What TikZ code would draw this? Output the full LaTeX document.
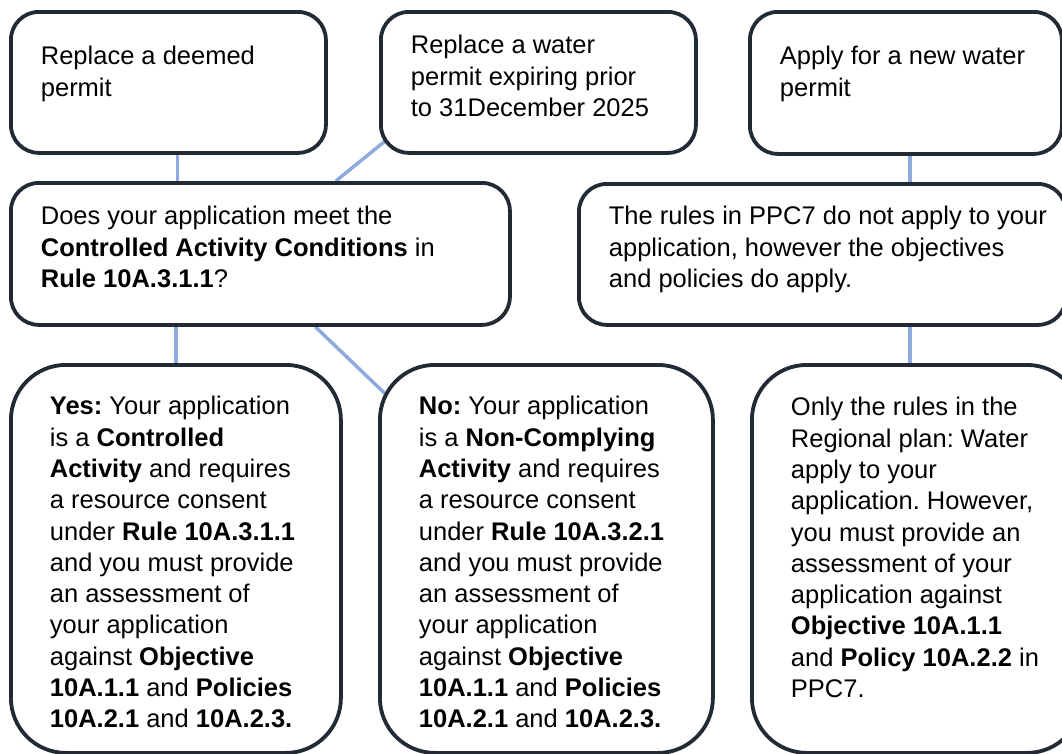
\documentclass[tikz,border=0pt]{standalone}
\usepackage{fontspec}
\setmainfont{Liberation Sans}
\usetikzlibrary{backgrounds}
\definecolor{boxline}{HTML}{222A35}
\definecolor{linkblue}{HTML}{8FAADC}
\newcommand{\notefont}{\fontsize{25.5}{31.3}\selectfont}
\newcommand{\notetext}[4]{\parbox[c][#1][t]{#2}{\raggedright\frenchspacing\vspace*{#3}\strut#4}}

\begin{document}
\begin{tikzpicture}[x=1pt, y=-1pt,
  note/.style={draw=boxline, fill=white, line width=3.8pt, rounded corners=28pt, anchor=north west, inner xsep=30pt, inner ysep=0pt, font=\notefont},
  bignote/.style={note, rounded corners=55pt, inner xsep=39pt},
  link/.style={draw=linkblue, line width=3.5pt}]
\useasboundingbox (0,0) rectangle (1062,753);
\clip (0,0) rectangle (1062,753);

\node[note] (deemed) at (9,10) {\notetext{141pt}{255pt}{31pt}{Replace a deemed\\permit}};
\node[note] (expiring) at (379,10) {\notetext{141pt}{255pt}{20pt}{Replace a water\\permit expiring prior\\to 31December 2025}};
\node[note] (newpermit) at (748,10) {\notetext{142pt}{252pt}{31pt}{Apply for a new water\\permit}};

\node[note] (question) at (9,181) {\notetext{142pt}{439pt}{20pt}{Does your application meet the\\\textbf{Controlled Activity Conditions} in\\\textbf{Rule 10A.3.1.1}?}};
\node[note] (norules) at (577,182) {\notetext{141pt}{427pt}{19pt}{\mbox{The rules in PPC7 do not apply to your}\\application, however the objectives\\and policies do apply.}};

\node[bignote] (yes) at (9,363) {\notetext{388pt}{252pt}{28pt}{\textbf{Yes:} Your application\\is a \textbf{Controlled}\\\textbf{Activity} and requires\\a resource consent\\under \textbf{Rule 10A.3.1.1}\\and you must provide\\an assessment of\\your application\\against \textbf{Objective}\\\textbf{10A.1.1} and \textbf{Policies}\\\textbf{10A.2.1} and \textbf{10A.2.3.}}};
\node[bignote] (no) at (378,363) {\notetext{388pt}{255pt}{28pt}{\textbf{No:} Your application\\is a \textbf{Non-Complying}\\\textbf{Activity} and requires\\a resource consent\\under \textbf{Rule 10A.3.2.1}\\and you must provide\\an assessment of\\your application\\against \textbf{Objective}\\\textbf{10A.1.1} and \textbf{Policies}\\\textbf{10A.2.1} and \textbf{10A.2.3.}}};
\node[bignote] (regional) at (750,363) {\notetext{388pt}{252pt}{29pt}{Only the rules in the\\Regional plan: Water\\apply to your\\application. However,\\you must provide an\\assessment of your\\application against\\\textbf{Objective 10A.1.1}\\and \textbf{Policy 10A.2.2} in\\PPC7.}};

\begin{scope}[on background layer]
\path[link] ([xshift=9pt]deemed.south) -- ([xshift=9pt]deemed.south |- question.north);
\path[link] ([shift={(15pt,21pt)}]expiring.south west) -- (question.44);
\path[link] ([xshift=4pt]newpermit.south) -- ([xshift=4pt]newpermit.south |- norules.north);
\path[link] (question.south -| yes.north) -- (yes.north);
\path[link] (question.307) -- ([shift={(22pt,-45pt)}]no.north west);
\path[link] ([xshift=4pt]newpermit.south |- norules.south) -- ([xshift=4pt]newpermit.south |- regional.north);
\end{scope}
\end{tikzpicture}
\end{document}
